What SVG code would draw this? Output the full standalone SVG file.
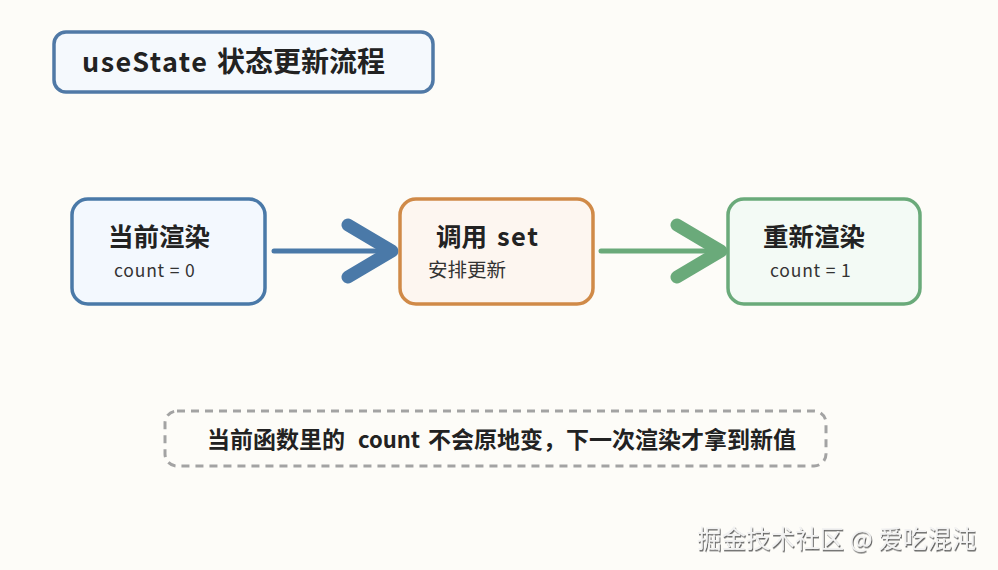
<svg xmlns="http://www.w3.org/2000/svg" width="998" height="570" viewBox="0 0 998 570">
<defs>
<style>
text{font-family:"Noto Sans CJK SC","Noto Sans",sans-serif;fill:#222;}
.t{font-weight:bold;font-size:25.5px;}
.s{font-size:17.5px;fill:#333;letter-spacing:0.8px;}
.box{stroke-width:3.5;}
</style>
<filter id="emb" x="-5%" y="-20%" width="110%" height="140%">
<feDropShadow dx="1" dy="1.5" stdDeviation="0.6" flood-color="#555" flood-opacity="0.9"/>
</filter>
</defs>
<rect width="998" height="570" fill="#fdfcf8"/>
<g id="title">
<rect x="54" y="32" width="379" height="60" rx="12" fill="#f5f9fd" stroke="#5079a6" stroke-width="3.5"/>
<text x="82" y="72" style="font-weight:bold;font-size:27px"><tspan style="letter-spacing:1.5px">useState</tspan> <tspan x="217" style="font-size:28px">状态更新流程</tspan></text>
</g>
<g id="connectors">
<g stroke="#4a79a8" fill="none" stroke-linecap="round" stroke-linejoin="round">
<line x1="274" y1="251" x2="392" y2="251" stroke-width="5"/>
<polyline points="348,225 392,251 348,277" stroke-width="13"/>
</g>
<g stroke="#6aaa7a" fill="none" stroke-linecap="round" stroke-linejoin="round">
<line x1="601" y1="251" x2="720" y2="251" stroke-width="5"/>
<polyline points="677,225 721,251 677,277" stroke-width="13"/>
</g>
</g>
<g id="n1">
<rect x="72" y="199" width="193" height="105" rx="16" fill="#f3f8fe" stroke="#4a79a8" class="box"/>
<text x="108" y="246" class="t">当前渲染</text>
<text x="114" y="277" class="s">count = 0</text>
</g>
<g id="n2">
<rect x="400" y="199" width="193" height="105" rx="16" fill="#fdf6f0" stroke="#d08a48" class="box"/>
<text x="436" y="246" class="t">调用 <tspan x="497" style="letter-spacing:1.5px">set</tspan></text>
<text x="428" y="277" class="s" style="font-size:19.5px;letter-spacing:0">安排更新</text>
</g>
<g id="n3">
<rect x="728" y="199" width="192" height="105" rx="16" fill="#f3faf5" stroke="#6aaa7a" class="box"/>
<text x="763" y="246" class="t">重新渲染</text>
<text x="770" y="277" class="s">count = 1</text>
</g>
<g id="note">
<rect x="165" y="411" width="661" height="55" rx="12" fill="none" stroke="#a3a3a3" stroke-width="3" stroke-dasharray="8 6"/>
<text x="207" y="448" style="font-weight:bold;font-size:23px">当前函数里的 <tspan x="358" style="font-size:22px">count</tspan> <tspan x="428">不会原地变，下一次渲染才拿到新值</tspan></text>
</g>
<text x="697" y="548" filter="url(#emb)" style="font-size:24.5px;fill:#f2f2f2">掘金技术社区 @ 爱吃混沌</text>
</svg>
